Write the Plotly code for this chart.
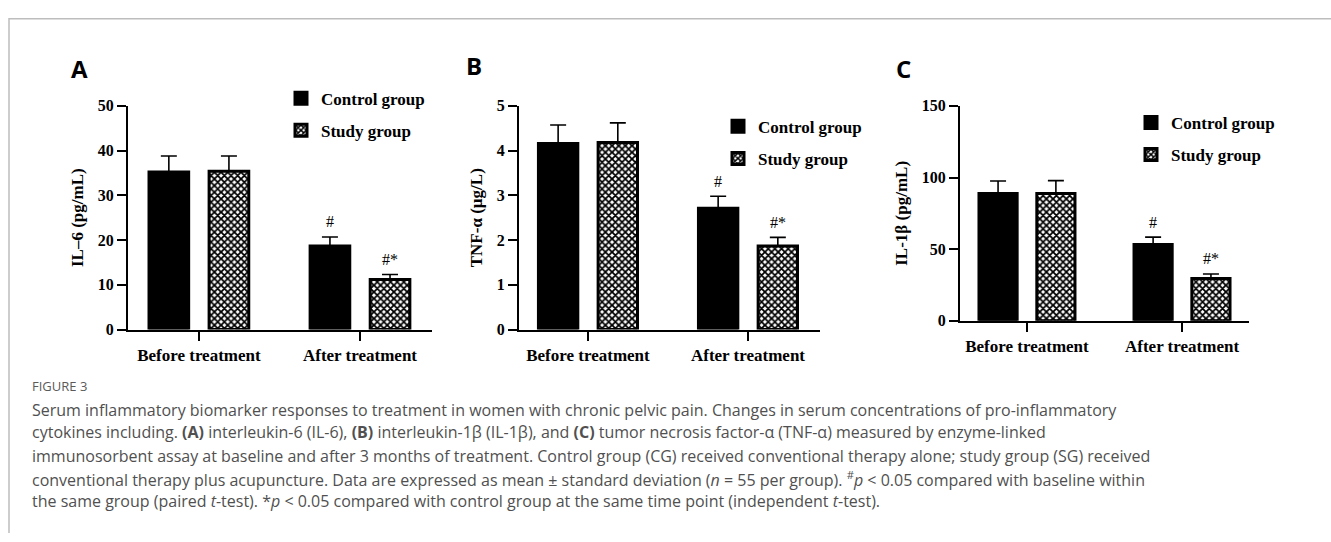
import plotly.graph_objects as go

W, H = 1331, 542

categories = ["Before treatment", "After treatment"]
series_names = ["Control group", "Study group"]

# Panel A: IL-6 (pg/mL)
il6_control = [35.2, 18.7]
il6_control_sd = [3.6, 2.0]
il6_study = [35.4, 11.2]
il6_study_sd = [3.4, 1.1]

# Panel B: TNF-alpha (ug/L)
tnf_control = [4.16, 2.71]
tnf_control_sd = [0.41, 0.27]
tnf_study = [4.18, 1.87]
tnf_study_sd = [0.44, 0.19]

# Panel C: IL-1beta (pg/mL)
il1b_control = [88.8, 53.2]
il1b_control_sd = [8.8, 5.2]
il1b_study = [88.8, 29.6]
il1b_study_sd = [9.0, 3.1]

sig_control = ["", "#"]
sig_study = ["", "#*"]

panels = [
    dict(letter="A", title="IL–6 (pg/mL)", ymax=50, dtick=10,
         c=il6_control, csd=il6_control_sd, s=il6_study, ssd=il6_study_sd,
         xpx=(128, 432), ypx=(101, 332), xr=(-0.44, 1.447),
         legpx=(281, 75), letpx=(79, 62)),
    dict(letter="B", title="TNF-α (µg/L)", ymax=5, dtick=1,
         c=tnf_control, csd=tnf_control_sd, s=tnf_study, ssd=tnf_study_sd,
         xpx=(519, 820), ypx=(101, 332), xr=(-0.431, 1.45),
         legpx=(718, 104), letpx=(474, 59)),
    dict(letter="C", title="IL-1β (pg/mL)", ymax=150, dtick=50,
         c=il1b_control, csd=il1b_control_sd, s=il1b_study, ssd=il1b_study_sd,
         xpx=(960, 1249), ypx=(101, 323), xr=(-0.432, 1.432),
         legpx=(1131, 100), letpx=(903, 62)),
]

SERIF = "Liberation Serif"
BARGAP = 0.254
BARGROUPGAP = 0.34

fig = go.Figure()
annotations = []
layout = dict(
    width=W, height=H, margin=dict(l=0, r=0, t=0, b=0),
    paper_bgcolor="white", plot_bgcolor="white",
    barmode="group", bargap=BARGAP, bargroupgap=BARGROUPGAP,
    showlegend=True,
)

for i, p in enumerate(panels):
    k = "" if i == 0 else str(i + 1)
    xa, ya = "x" + k, "y" + k
    leg = "legend" + k
    err_style = dict(type="data", symmetric=False, color="black",
                     thickness=1.6, width=8)
    fig.add_trace(go.Bar(
        x=categories, y=p["c"], name=series_names[0], xaxis=xa, yaxis=ya,
        legend=leg, legendgroup=f"c{i}",
        marker=dict(color="black", line=dict(color="black", width=3)),
        error_y=dict(array=p["csd"], arrayminus=[0] * len(p["csd"]), **err_style),
    ))
    fig.add_trace(go.Bar(
        x=categories, y=p["s"], name=series_names[1], xaxis=xa, yaxis=ya,
        legend=leg, legendgroup=f"s{i}",
        marker=dict(color="white", line=dict(color="black", width=3),
                    pattern=dict(shape="x", fgcolor="black", bgcolor="white",
                                 size=4.7, solidity=0.62, fillmode="replace")),
        error_y=dict(array=p["ssd"], arrayminus=[0] * len(p["ssd"]), **err_style),
    ))
    x0, x1 = p["xpx"]
    y0, y1 = p["ypx"]
    layout["xaxis" + k] = dict(
        domain=[x0 / W, x1 / W], anchor=ya, type="category",
        range=list(p["xr"]), showline=True, linecolor="black", linewidth=2,
        ticks="outside", ticklen=9, tickwidth=2, tickcolor="black",
        tickfont=dict(family=SERIF, size=17, color="black", weight="bold"),
        showgrid=False, zeroline=False, fixedrange=True,
    )
    layout["yaxis" + k] = dict(
        domain=[1 - y1 / H, 1 - y0 / H], anchor=xa,
        range=[0, p["ymax"]], dtick=p["dtick"], tick0=0,
        showline=True, linecolor="black", linewidth=2,
        ticks="outside", ticklen=9, tickwidth=2, tickcolor="black",
        tickfont=dict(family=SERIF, size=16, color="black", weight="bold"),
        showgrid=False, zeroline=False, fixedrange=True,
        title=dict(text=p["title"], standoff=10,
                   font=dict(family=SERIF, size=17, color="black", weight="bold")),
    )
    lx, ly = p["legpx"]
    layout[leg] = dict(
        x=lx / W, y=1 - ly / H, xanchor="left", yanchor="top",
        bgcolor="rgba(0,0,0,0)", borderwidth=0, traceorder="grouped",
        tracegroupgap=7, itemwidth=30,
        font=dict(family=SERIF, size=17, color="black", weight="bold"),
    )
    # significance marks above error bars
    off = (1 - BARGAP) / 4
    for j in range(len(categories)):
        for vals, sds, marks, sgn in ((p["c"], p["csd"], sig_control, -1),
                                      (p["s"], p["ssd"], sig_study, 1)):
            if marks[j]:
                annotations.append(dict(
                    x=j + sgn * off, y=vals[j] + sds[j], xref=xa, yref=ya,
                    text=marks[j], showarrow=False, yanchor="middle", yshift=15,
                    font=dict(family=SERIF, size=16, color="black")))
    lx2, ly2 = p["letpx"]
    annotations.append(dict(
        x=lx2 / W, y=1 - ly2 / H, xref="paper", yref="paper", text=p["letter"],
        showarrow=False, xanchor="center", yanchor="middle",
        font=dict(family="Open Sans", size=24, color="black", weight="bold")))

# caption
CAP_FONT = "Open Sans"
CAP_COLOR = "#505050"
annotations.append(dict(
    x=30 / W, y=1 - 390 / H, xref="paper", yref="paper", text="FIGURE 3",
    showarrow=False, xanchor="left", yanchor="middle",
    font=dict(family=CAP_FONT, size=13, color="#5a5a5a")))
caption_lines = [
    "Serum inflammatory biomarker responses to treatment in women with chronic pelvic pain. Changes in serum concentrations of pro-inflammatory",
    "cytokines including. <b>(A)</b> interleukin-6 (IL-6), <b>(B)</b> interleukin-1β (IL-1β), and <b>(C)</b> tumor necrosis factor-α (TNF-α) measured by enzyme-linked",
    "immunosorbent assay at baseline and after 3 months of treatment. Control group (CG) received conventional therapy alone; study group (SG) received",
    "conventional therapy plus acupuncture. Data are expressed as mean ± standard deviation (<i>n</i> = 55 per group). <sup>#</sup><i>p</i> &lt; 0.05 compared with baseline within",
    "the same group (paired <i>t</i>-test). *<i>p</i> &lt; 0.05 compared with control group at the same time point (independent <i>t</i>-test).",
]
caption_y = [415, 438, 462, 486, 509]
for line, yy in zip(caption_lines, caption_y):
    annotations.append(dict(
        x=30 / W, y=1 - yy / H, xref="paper", yref="paper", text=line,
        showarrow=False, xanchor="left", yanchor="middle", align="left",
        font=dict(family=CAP_FONT, size=16, color=CAP_COLOR)))

layout["annotations"] = annotations
layout["shapes"] = [dict(
    type="path", xref="paper", yref="paper",
    path=f"M {9 / W},0 L {9 / W},{1 - 11 / H} L 1,{1 - 11 / H}",
    line=dict(color="#bdbdbd", width=1.5))]

fig.update_layout(**layout)
fig.write_html(
    "out.html",
    config={"displayModeBar": False, "staticPlot": True},
    post_script="document.documentElement.style.margin='0';document.body.style.margin='0';document.body.style.overflow='hidden';",
)
